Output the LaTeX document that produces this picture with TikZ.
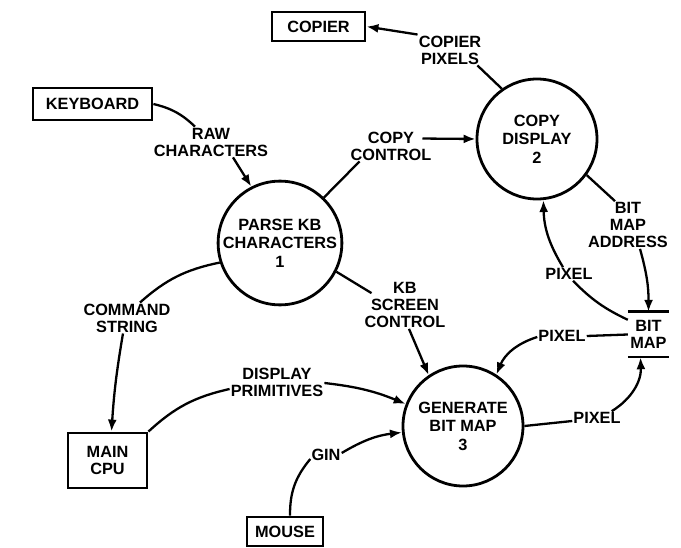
\documentclass[tikz,border=0pt]{standalone}
\usepackage{fontspec}
\setmainfont{Liberation Sans}
\usetikzlibrary{arrows.meta}
\begin{document}
\begin{tikzpicture}[x=1pt,y=1pt,
  every node/.style={font=\fontsize{16.3}{17}\selectfont\bfseries, align=center},
  terminal/.style={draw, line width=2.8pt, inner sep=0pt},
  process/.style={draw, circle, line width=2.8pt, inner sep=0pt,
    minimum size=#1, font=\fontsize{16.3}{18.5}\selectfont\bfseries},
  flowlabel/.style={inner sep=1pt},
  flow/.style={line width=2.3pt},
  flowarrow/.style={flow, -{Latex[length=12pt,width=9pt]}}]
\useasboundingbox[fill=white] (0,0) rectangle (681,-548);

% external entities
\node[terminal, minimum width=93pt, minimum height=29pt] (copier) at (318.5,-26.5) {COPIER};
\node[terminal, minimum width=119pt, minimum height=32pt] (keyboard) at (92.5,-104) {KEYBOARD};
\node[terminal, minimum width=79pt, minimum height=55pt] (maincpu) at (107.5,-460.5) {MAIN\\CPU};
\node[terminal, minimum width=76pt, minimum height=29pt] (mouse) at (285,-531.5) {MOUSE};

% processes
\node[process=116pt] (p1) at (280,-243) {PARSE KB\\CHARACTERS\\1};
\node[process=120pt] (p2) at (537,-139) {COPY\\DISPLAY\\2};
\node[process=120pt] (p3) at (463,-426) {GENERATE\\BIT MAP\\3};

% data store
\node[minimum width=41pt, minimum height=45pt, inner sep=0pt] (bm) at (648.5,-334.5) {BIT\\MAP};
\draw[line width=2.6pt] (bm.north west) -- (bm.north east);
\draw[line width=2.6pt] (bm.south west) -- (bm.south east);

% flow labels
\node[flowlabel] (lCopierPix) at (450,-50) {COPIER\\PIXELS};
\node[flowlabel] (lRaw) at (211,-142) {RAW\\CHARACTERS};
\node[flowlabel] (lCopyCtl) at (391,-146) {COPY\\CONTROL};
\node[flowlabel] (lBMA) at (628,-225) {BIT\\MAP\\ADDRESS};
\node[flowlabel] (lPixUp) at (569,-274) {PIXEL};
\node[flowlabel] (lPixLeft) at (562,-336) {PIXEL};
\node[flowlabel] (lPixRight) at (597,-418) {PIXEL};
\node[flowlabel] (lKB) at (405,-305) {KB\\SCREEN\\CONTROL};
\node[flowlabel] (lCmd) at (127,-318) {COMMAND\\STRING};
\node[flowlabel] (lDisp) at (277,-382) {DISPLAY\\PRIMITIVES};
\node[flowlabel] (lGin) at (326,-455) {GIN};

% data flows
\draw[flow] (p2.125) -- ([xshift=-5pt]lCopierPix.south east);
\draw[flowarrow] (lCopierPix.north west) -- (copier.east);

\draw[flow] (keyboard.east) to[bend left=15] ([xshift=-16pt]lRaw.north);
\draw[flowarrow] ([xshift=22pt]lRaw.south) -- (p1.117);

\draw[flow] (p1.46) -- ([xshift=10pt]lCopyCtl.south west);
\draw[flowarrow] ([xshift=-10pt,yshift=-8pt]lCopyCtl.north east) -- (p2.west);

\draw[flow] (p2.-36) -- ([xshift=-13pt]lBMA.north);
\draw[flowarrow] ([xshift=12pt]lBMA.south) to[bend left=8] (bm.north);

\draw[flow] ([yshift=-8pt]bm.north west) to[bend left=10] ([xshift=4pt]lPixUp.south);
\draw[flowarrow] ([xshift=-6pt]lPixUp.north) to[bend left=15] (p2.-84);

\draw[flow] (bm.west) -- (lPixLeft.east);
\draw[flowarrow] ([yshift=-1pt]lPixLeft.west) to[bend right=25] (p3.57);

\draw[flow] (p3.east) -- ([yshift=-3pt]lPixRight.west);
\draw[flowarrow] ([xshift=-10pt]lPixRight.north east) to[bend right=30] ([xshift=-8pt]bm.south);

\draw[flow] (p1.-27) -- ([xshift=8pt,yshift=-12pt]lKB.north west);
\draw[flowarrow] ([xshift=4pt]lKB.south) -- (p3.124);

\draw[flow] (p1.198) to[bend right=15] ([xshift=13pt]lCmd.north);
\draw[flowarrow] ([xshift=-4pt]lCmd.south) to[bend right=3] ([xshift=4pt]maincpu.north);

\draw[flow] (maincpu.north east) to[bend left=15] ([yshift=-7pt]lDisp.west);
\draw[flowarrow] ([yshift=-1pt]lDisp.east) to[bend left=8] (p3.159);

\draw[flow] ([xshift=5pt]mouse.north) to[bend left=20] ([yshift=-4pt]lGin.west);
\draw[flowarrow] ([yshift=2pt]lGin.east) to[bend left=12] (p3.186);
\end{tikzpicture}
\end{document}
